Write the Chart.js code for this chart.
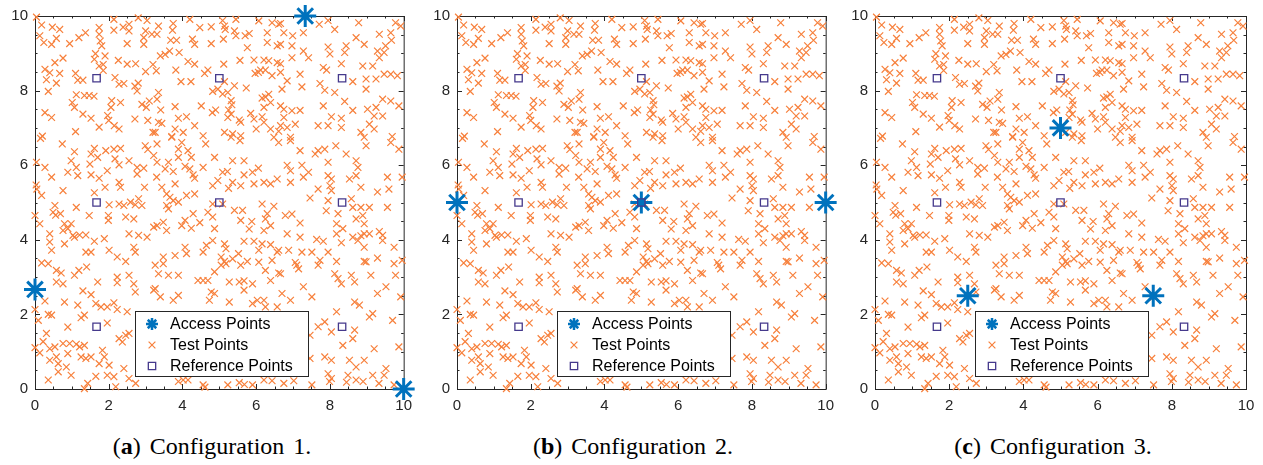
<!DOCTYPE html>
<html>
<head>
<meta charset="utf-8">
<script src="https://cdn.jsdelivr.net/npm/chart.js@4.4.1/dist/chart.umd.min.js"></script>
<style>
  body { margin: 0; background: #fff; width: 1263px; height: 465px; position: relative; overflow: hidden; }
  canvas { position: absolute; top: 0; }
  .caption { position: absolute; top: 434px; font-family: "Liberation Serif", serif; font-size: 24px; word-spacing: 3px; color: #000; transform: translateX(-50%); white-space: nowrap; line-height: 1; }
</style>
</head>
<body>
<canvas id="chartA" width="420" height="420" style="left:0"></canvas>
<canvas id="chartB" width="420" height="420" style="left:422px"></canvas>
<canvas id="chartC" width="423" height="420" style="left:840px"></canvas>
<div class="caption" style="left:212px">(<b>a</b>) Configuration 1.</div>
<div class="caption" style="left:633px">(<b>b</b>) Configuration 2.</div>
<div class="caption" style="left:1053px">(<b>c</b>) Configuration 3.</div>
<script>
// reference grid (same in every configuration)
const refX = [1.67, 5, 8.33, 1.67, 5, 8.33, 1.67, 5, 8.33];
const refY = [8.33, 8.33, 8.33, 5, 5, 5, 1.67, 1.67, 1.67];

// access point placements
const ap1X = [7.33, 0, 10];
const ap1Y = [10, 2.67, 0];
const ap2X = [0, 5, 10];
const ap2Y = [5, 5, 5];
const ap3X = [5, 2.5, 7.5];
const ap3Y = [7, 2.5, 2.5];

const tickValues = [0, 2, 4, 6, 8, 10];

// test locations [x, y]
const testPoints = [
  [0.04,9.97],[0.18,9.76],[0.47,9.7],[0.67,9.64],[0.13,9.47],[0.24,9.29],[0.45,9.24],[0.58,9.4],[0.94,9.26],[1.19,9.42],
  [1.37,9.55],[1.74,9.69],[1.74,9.51],[1.77,9.33],[1.81,9.2],[2.14,9.91],[2.14,9.62],[2.39,9.7],[2.55,9.78],[2.55,9.6],
  [2.8,9.95],[3.04,9.88],[3.0,9.6],[2.95,9.42],[2.95,9.24],[3.17,9.51],[2.5,9.26],[1.64,8.99],[1.61,8.84],[1.9,8.93],
  [1.74,8.66],[1.85,8.7],[1.85,8.54],[2.26,8.81],[2.5,8.71],[2.73,8.72],[3.0,8.51],[3.2,8.7],[0.54,8.75],[0.76,8.87],
  [0.27,8.57],[0.4,8.48],[0.67,8.46],[0.31,8.29],[0.58,8.2],[1.1,8.46],[1.16,8.28],[1.3,8.28],[0.36,7.98],[1.01,7.68],
  [1.07,7.55],[1.12,7.89],[1.34,7.87],[1.47,7.87],[1.6,7.85],[2.08,7.73],[2.32,7.68],[2.06,7.55],[2.17,8.35],[2.28,8.17],
  [2.41,8.19],[2.71,8.12],[2.8,8.2],[2.77,7.99],[2.9,7.63],[3.02,7.55],[3.1,7.72],[1.3,7.37],[1.52,7.26],[0.27,7.41],
  [0.45,7.28],[1.97,7.33],[2.0,7.2],[2.15,7.06],[2.28,6.97],[1.74,7.02],[1.1,6.9],[2.71,7.24],[3.06,7.2],[3.2,6.88],[0.2,6.78],
  [3.35,9.73],[3.75,9.8],[3.73,9.62],[3.84,9.35],[3.68,9.35],[4.2,9.91],[4.47,9.69],[4.78,9.71],[5.09,9.88],[5.14,9.73],
  [5.16,9.64],[5.11,9.38],[5.45,9.91],[5.41,9.6],[5.45,9.47],[5.7,9.47],[5.81,9.53],[6.07,9.87],[6.3,9.55],[6.43,9.82],
  [6.61,9.78],[6.57,9.2],[6.3,9.29],[3.31,9.51],[4.27,9.38],[4.33,9.24],[4.78,9.26],[5.76,9.15],[3.4,8.93],[3.53,8.97],
  [3.65,9.06],[3.91,9.02],[4.15,8.78],[4.33,8.71],[3.82,8.55],[3.29,8.53],[4.6,8.46],[4.69,8.55],[5.12,8.71],[5.56,8.81],
  [5.94,8.82],[6.21,8.82],[6.34,8.8],[6.57,8.75],[6.12,8.55],[6.06,8.49],[6.25,8.55],[5.97,8.46],[6.43,8.4],[3.96,8.24],
  [4.23,8.24],[5.14,8.24],[4.82,7.98],[4.96,8.04],[5.09,7.91],[5.23,7.95],[5.41,8.13],[5.73,8.07],[5.32,7.73],[5.34,7.62],
  [5.25,7.48],[4.9,7.48],[4.81,7.41],[4.51,7.59],[3.35,7.95],[3.31,7.77],[3.41,7.48],[3.8,7.57],[3.89,7.26],[4.11,7.3],
  [4.33,7.06],[3.35,7.15],[3.44,7.12],[3.26,6.88],[3.8,6.97],[4.02,6.88],[3.71,6.77],[5.23,7.28],[5.32,7.37],[5.54,7.21],
  [5.58,7.15],[5.85,7.39],[5.94,7.24],[6.16,7.8],[6.25,7.83],[6.34,7.9],[6.21,7.55],[6.39,7.68],[6.16,7.3],[6.21,7.15],
  [6.0,6.97],[6.39,6.97],[6.61,6.91],[5.14,6.88],[5.36,6.84],[5.58,6.79],[4.56,6.79],
  [6.66,9.8],[6.75,9.55],[6.99,9.47],[6.97,9.2],[7.28,9.55],[7.71,9.78],[7.95,9.88],[8.13,9.64],[8.78,9.82],[8.71,9.42],
  [8.44,9.2],[8.93,9.24],[9.34,9.51],[9.65,9.55],[9.78,9.82],[9.92,9.73],[9.51,9.2],[9.47,9.02],[9.29,9.06],[9.67,9.35],
  [6.66,9.24],[7.28,9.06],[7.42,8.88],[6.97,8.88],[6.66,8.72],[7.95,9.17],[8.0,8.98],[8.31,8.72],[8.4,9.02],[8.89,8.66],
  [9.16,8.66],[9.34,8.88],[9.47,8.44],[9.65,8.44],[9.83,8.4],[9.25,8.31],[8.98,8.31],[7.82,8.62],[7.91,8.55],[6.66,8.49],
  [6.84,8.26],[7.19,8.44],[7.24,8.1],[6.7,8.04],[7.73,8.19],[7.86,8.01],[8.13,7.95],[8.62,8.24],[8.98,8.04],[8.4,7.71],
  [6.66,7.59],[6.75,7.5],[6.97,7.46],[7.19,7.47],[7.82,7.59],[8.62,7.47],[9.02,7.5],[9.25,7.55],[9.43,7.77],[9.65,7.72],
  [9.87,7.59],[9.2,7.32],[9.43,7.32],[8.04,7.3],[8.31,7.26],[6.75,7.28],[6.66,7.06],[6.84,7.01],[7.06,7.1],[7.68,7.06],
  [7.95,7.06],[8.31,7.01],[8.84,6.88],[9.07,7.1],[9.2,6.97],[6.93,6.75],[9.69,6.77],
  [0.15,6.72],[0.74,6.57],[1.07,6.36],[0.98,6.12],[1.12,5.94],[1.16,5.72],[0.89,5.81],[1.61,6.45],[1.52,6.3],[1.7,6.21],
  [1.92,6.39],[2.14,6.43],[2.32,6.45],[2.17,6.17],[2.28,6.01],[1.96,5.85],[1.49,6.03],[1.52,5.74],[1.74,5.65],[2.55,6.12],
  [2.77,5.94],[2.77,5.76],[2.95,5.92],[2.99,6.52],[3.06,6.42],[3.22,6.26],[0.04,6.08],[0.27,5.94],[0.45,5.68],[0.03,5.47],
  [0.05,5.36],[0.18,5.19],[1.9,5.41],[2.28,5.54],[2.32,5.41],[2.97,5.41],[3.3,5.68],[0.76,5.32],[1.61,5.26],[0.54,4.92],
  [0.49,4.74],[0.56,4.66],[0.69,4.7],[1.12,4.87],[1.47,4.65],[2.01,4.94],[1.99,4.65],[1.99,4.52],[2.28,4.96],[2.41,4.92],
  [2.59,5.01],[2.81,5.1],[2.72,4.94],[2.9,4.92],[0.0,4.65],[0.13,4.43],[2.46,4.61],[2.68,4.56],[3.22,4.34],[0.8,4.43],
  [0.98,4.43],[0.76,4.25],[0.89,4.3],[1.03,4.12],[1.21,4.13],[1.38,4.13],[0.4,4.16],[0.4,3.94],[0.45,3.72],[0.8,3.89],
  [1.07,4.07],[1.61,3.96],[1.88,4.03],[2.55,4.16],[2.81,4.12],[3.04,4.07],[2.68,3.8],[2.72,3.67],[1.38,3.67],[1.52,3.67],
  [2.01,3.72],[2.23,3.54],[2.46,3.42],[0.18,3.38],
  [3.31,6.57],[3.71,6.75],[3.98,6.61],[3.89,6.43],[3.89,6.21],[4.15,6.39],[4.24,6.21],[4.63,6.57],[5.32,6.75],[5.56,6.66],
  [6.48,6.75],[6.61,6.61],[3.31,6.08],[3.53,5.9],[3.62,6.08],[3.75,5.83],[4.07,5.97],[4.2,5.9],[4.56,5.94],[4.29,5.74],
  [4.33,5.65],[4.87,6.21],[5.36,6.12],[5.67,6.12],[5.09,5.81],[5.22,5.83],[4.96,5.59],[4.82,5.45],[5.36,5.54],[5.25,5.38],
  [5.58,5.45],[5.67,5.74],[5.9,5.81],[6.06,5.92],[5.94,5.5],[6.21,5.54],[6.39,5.5],[6.57,5.63],[3.44,5.41],[3.8,5.5],
  [3.57,5.23],[3.66,5.14],[3.75,5.05],[4.11,5.19],[4.33,5.23],[3.89,5.01],[3.57,4.92],[3.62,4.83],[4.82,4.96],[5.09,4.96],
  [4.69,4.74],[4.82,4.61],[5.41,4.79],[5.63,4.79],[6.16,4.96],[6.48,4.9],[6.3,4.7],[6.25,4.56],[4.29,4.7],[4.07,4.52],
  [3.98,4.38],[4.24,4.31],[4.47,4.46],[3.31,4.38],[3.48,4.47],[3.57,4.25],[4.87,4.3],[5.58,4.52],[5.88,4.49],[5.81,4.29],
  [6.39,4.38],[6.21,4.25],[5.67,3.96],[5.94,3.96],[6.16,3.89],[6.39,3.87],[6.07,3.72],[6.57,3.67],[6.43,3.45],[4.82,3.98],
  [4.65,3.85],[4.56,3.67],[5.14,3.89],[5.18,3.76],[4.07,3.8],[4.11,3.63],[3.8,3.58],[3.48,3.54],[5.05,3.54],[5.14,3.42],
  [5.36,3.49],[5.52,3.63],[5.76,3.42],[6.07,3.4],
  [6.93,6.66],[7.19,6.39],[7.6,6.3],[7.68,6.39],[7.86,6.43],[8.16,6.52],[8.44,6.3],[8.93,6.75],[8.98,6.52],[9.65,6.61],
  [9.87,6.43],[6.84,6.0],[6.93,5.85],[7.24,6.0],[7.42,5.81],[7.28,5.68],[7.95,6.08],[8.71,6.12],[8.76,5.94],[8.71,5.72],
  [8.53,5.63],[7.95,5.72],[8.04,5.63],[8.0,5.45],[8.04,5.32],[6.93,5.54],[7.68,5.36],[7.46,5.12],[7.95,5.05],[8.58,5.1],
  [8.84,5.41],[9.29,5.28],[9.56,5.68],[9.6,5.36],[9.96,5.68],[7.9,4.78],[8.22,4.7],[8.62,4.87],[8.84,4.87],[9.07,4.87],
  [8.89,4.65],[8.71,4.56],[8.93,4.43],[9.56,4.87],[6.97,4.69],[6.79,4.65],[7.19,4.45],[8.18,4.43],[8.35,4.3],[8.18,4.16],
  [6.84,4.16],[7.19,4.07],[7.64,4.01],[7.82,3.96],[8.31,3.92],[8.62,4.07],[8.76,3.98],[8.84,4.11],[8.93,4.16],[9.07,4.16],
  [9.34,4.22],[9.43,4.12],[9.43,3.98],[6.61,3.72],[6.88,3.72],[7.24,3.67],[7.51,3.67],[7.95,3.67],[9.74,3.8],[8.93,3.8],
  [9.29,3.51],[9.96,3.45],[7.73,3.45],[7.06,3.39],[8.18,3.42],[8.93,3.42],
  [0.36,3.36],[0.58,3.18],[0.71,3.11],[0.58,2.87],[0.76,2.82],[1.07,3.05],[1.19,3.18],[1.4,3.27],[1.7,2.87],[2.23,3.0],
  [2.23,2.85],[2.55,3.05],[2.68,2.82],[2.72,2.6],[3.22,2.65],[1.3,2.63],[1.52,2.53],[0.27,2.36],[0.8,2.33],[1.16,2.25],
  [1.65,2.29],[1.79,2.2],[1.96,2.2],[2.14,2.31],[2.23,2.13],[2.5,2.07],[0.0,2.13],[0.36,2.0],[0.45,1.98],[0.09,1.84],
  [1.34,1.98],[1.25,1.91],[0.89,1.66],[1.96,1.77],[0.31,1.49],[0.22,1.27],[0.0,1.11],[0.13,0.97],[0.4,1.08],[0.54,1.13],
  [0.76,1.22],[0.94,1.22],[1.12,1.2],[1.21,1.13],[1.34,1.17],[1.25,0.86],[1.38,0.82],[1.52,0.86],[1.83,1.04],[1.88,0.86],
  [2.01,0.64],[1.74,0.68],[2.28,1.35],[2.46,1.44],[2.55,1.49],[2.37,1.26],[0.89,0.95],[0.58,0.86],[0.63,0.68],[0.85,0.59],
  [0.98,0.37],[0.63,0.46],[0.4,0.77],[0.36,0.24],[1.65,0.34],[1.96,0.37],[2.14,0.33],[2.41,0.55],[2.55,0.28],[1.43,0.15],
  [1.34,0.01],[2.19,0.06],
  [3.26,3.32],[3.48,3.36],[3.35,3.09],[3.62,3.05],[3.89,3.05],[3.26,2.69],[3.4,2.47],[3.75,2.38],[3.89,2.51],[4.42,2.91],
  [4.56,2.91],[4.69,2.91],[4.87,3.14],[4.78,2.6],[4.87,2.56],[4.73,2.38],[5.05,3.32],[5.18,3.36],[5.58,3.32],[5.27,2.87],
  [5.54,2.87],[5.67,2.9],[5.9,2.82],[5.67,2.65],[5.27,2.33],[5.9,2.29],[6.03,2.38],[6.21,2.38],[6.25,2.2],[6.57,2.2],
  [6.61,3.11],[6.25,3.18],[6.39,2.91],[4.02,0.24],[4.15,0.24],[4.56,0.11],[5.23,0.11],[5.54,0.17],[5.9,0.11],[6.21,0.24],
  [2.73,0.15],[3.89,0.2],[4.61,0.05],[5.68,0.12],[6.43,0.22],[7.02,0.22],[7.99,0.2],[8.45,0.18],[8.9,0.2],[9.33,0.15],
  [6.66,3.09],[7.1,3.32],[7.15,3.22],[7.68,3.32],[8.13,3.09],[8.22,2.96],[8.31,2.82],[8.67,2.87],[8.58,3.05],[8.98,3.41],
  [9.11,3.05],[9.74,3.36],[9.78,3.05],[7.28,2.74],[7.51,2.47],[6.93,2.38],[6.7,2.56],[8.67,2.33],[8.8,2.25],[9.29,2.56],
  [9.52,2.74],[9.92,2.47],[8.18,2.07],[7.86,1.8],[7.68,1.67],[8.04,1.53],[8.67,1.58],[9.07,1.93],[9.16,2.02],[9.7,1.84],
  [7.46,1.44],[8.35,1.17],[8.62,1.35],[9.2,1.08],[9.87,1.13],[7.46,0.82],[7.86,0.86],[8.04,0.77],[8.53,0.77],[8.71,0.59],
  [8.93,0.77],[9.52,0.55],[9.47,0.37],[9.16,0.37],[7.95,0.41],[8.04,0.28],[8.49,0.37],[8.71,0.24],[6.75,0.15],[7.51,0.11],
  [9.74,0.11]
];

const AXIS_COLOR = "#262626";
const AP_COLOR = "#0072BD";
const TEST_COLOR = "#F7803C";
const REF_COLOR = "#45398C";

const legendItems = [
  { label: "Access Points", style: "star", r: 6, width: 2.5, color: AP_COLOR },
  { label: "Test Points", style: "crossRot", r: 4.8, width: 1.2, color: TEST_COLOR },
  { label: "Reference Points", style: "rect", r: 5.2, width: 1.3, color: REF_COLOR },
];

// matlab style box with inward ticks on all four sides
const frameTicks = {
  id: "frameTicks",
  beforeDatasetsDraw(chart) {
    const { ctx, chartArea: a, scales } = chart;
    ctx.save();
    ctx.strokeStyle = AXIS_COLOR;
    ctx.lineWidth = 1;
    ctx.strokeRect(a.left + 0.5, a.top + 0.5, a.right - a.left, a.bottom - a.top);
    ctx.beginPath();
    for (let v = 0; v <= 10; v += 0.5) {
      const len = v % 2 === 0 ? 5 : 2.5;
      const px = Math.round(scales.x.getPixelForValue(v)) + 0.5;
      ctx.moveTo(px, a.bottom);
      ctx.lineTo(px, a.bottom - len);
      ctx.moveTo(px, a.top);
      ctx.lineTo(px, a.top + len);
      const py = Math.round(scales.y.getPixelForValue(v)) + 0.5;
      ctx.moveTo(a.left, py);
      ctx.lineTo(a.left + len, py);
      ctx.moveTo(a.right, py);
      ctx.lineTo(a.right - len, py);
    }
    ctx.stroke();
    ctx.restore();
  },
};

const boxLegend = {
  id: "boxLegend",
  afterDatasetsDraw(chart) {
    const { ctx, chartArea: a } = chart;
    const w = 173, h = 65;
    const left = Math.round(a.left + 100);
    const top = Math.round(a.bottom - 78);
    ctx.save();
    ctx.fillStyle = "#fff";
    ctx.fillRect(left, top, w, h);
    ctx.strokeStyle = AXIS_COLOR;
    ctx.lineWidth = 1;
    ctx.strokeRect(left + 0.5, top + 0.5, w, h);
    legendItems.forEach((it, i) => {
      const cy = top + 13 + i * 21;
      ctx.strokeStyle = it.color;
      ctx.fillStyle = "rgba(0,0,0,0)";
      ctx.lineWidth = it.width;
      Chart.helpers.drawPoint(ctx, { pointStyle: it.style, radius: it.r, rotation: 0, borderWidth: it.width }, left + 17, cy);
      ctx.fillStyle = "#000";
      ctx.font = "16px 'Liberation Sans', Arial, sans-serif";
      ctx.textBaseline = "middle";
      ctx.fillText(it.label, left + 35, cy + 1);
    });
    ctx.restore();
  },
};

function axis(pos) {
  return {
    type: "linear",
    position: pos,
    min: 0,
    max: 10,
    afterBuildTicks: (s) => { s.ticks = tickValues.map((v) => ({ value: v })); },
    ticks: {
      padding: pos === "bottom" ? 8 : 7,
      color: AXIS_COLOR,
      maxRotation: 0,
      font: { family: "'Liberation Sans', Arial, sans-serif", size: 15 },
    },
    grid: { display: false, drawTicks: false },
    border: { display: false },
    afterFit: (s) => {
      if (pos === "bottom") s.height = 31;
      else s.width = 35;
    },
  };
}

function makeChart(id, apX, apY, padRight) {
  const pts = (xs, ys) => xs.map((x, i) => ({ x: x, y: ys[i] }));
  return new Chart(document.getElementById(id), {
    type: "scatter",
    data: {
      datasets: [
        {
          label: "Access Points",
          data: pts(apX, apY),
          pointStyle: "star",
          pointRadius: 11,
          pointBorderWidth: 3,
          borderColor: AP_COLOR,
          pointBorderColor: AP_COLOR,
          backgroundColor: "rgba(0,0,0,0)",
          pointBackgroundColor: "rgba(0,0,0,0)",
          order: 1,
          clip: false,
        },
        {
          label: "Test Points",
          data: testPoints.map(([x, y]) => ({ x, y })),
          pointStyle: "crossRot",
          pointRadius: 4.8,
          pointBorderWidth: 1.2,
          borderColor: TEST_COLOR,
          pointBorderColor: TEST_COLOR,
          backgroundColor: "rgba(0,0,0,0)",
          pointBackgroundColor: "rgba(0,0,0,0)",
          order: 2,
          clip: false,
        },
        {
          label: "Reference Points",
          data: pts(refX, refY),
          pointStyle: "rect",
          pointRadius: 5.2,
          pointBorderWidth: 1.3,
          borderColor: REF_COLOR,
          pointBorderColor: REF_COLOR,
          backgroundColor: "rgba(0,0,0,0)",
          pointBackgroundColor: "rgba(0,0,0,0)",
          order: 0,
          clip: false,
        },
      ],
    },
    options: {
      responsive: false,
      animation: false,
      events: [],
      layout: { padding: { top: 15, right: padRight, left: 0, bottom: 0 } },
      plugins: { legend: { display: false }, tooltip: { enabled: false } },
      scales: { x: axis("bottom"), y: axis("left") },
    },
    plugins: [frameTicks, boxLegend],
  });
}

makeChart("chartA", ap1X, ap1Y, 12);
makeChart("chartB", ap2X, ap2Y, 15);
makeChart("chartC", ap3X, ap3Y, 17);
</script>
</body>
</html>
